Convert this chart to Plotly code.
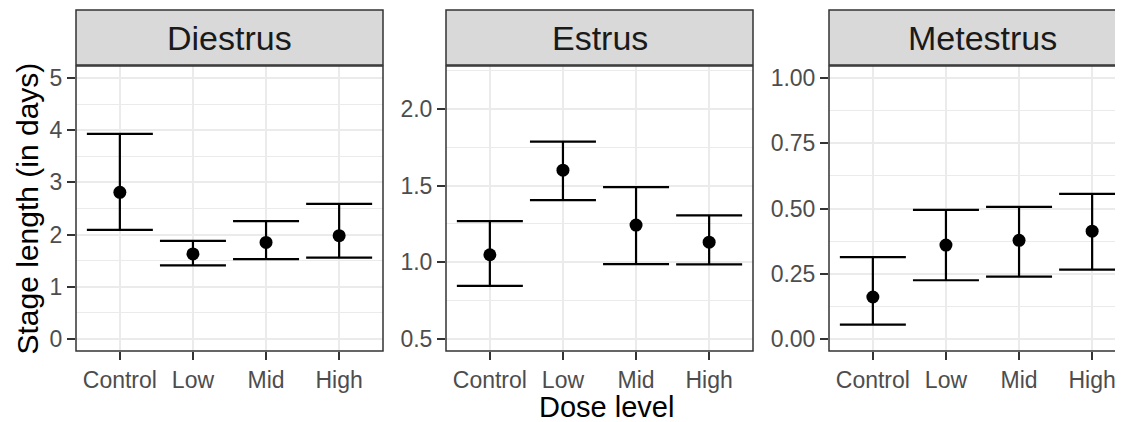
import plotly.graph_objects as go

# ---- data ----
doses = ["Control", "Low", "Mid", "High"]
stages = ["Diestrus", "Estrus", "Metestrus"]

diestrus_mean = [2.81, 1.63, 1.85, 1.98]
diestrus_low = [2.09, 1.41, 1.53, 1.56]
diestrus_high = [3.93, 1.88, 2.26, 2.59]

estrus_mean = [1.048, 1.60, 1.242, 1.13]
estrus_low = [0.845, 1.405, 0.987, 0.985]
estrus_high = [1.268, 1.786, 1.49, 1.305]

metestrus_mean = [0.161, 0.36, 0.378, 0.413]
metestrus_low = [0.055, 0.225, 0.239, 0.266]
metestrus_high = [0.314, 0.495, 0.506, 0.556]

y_ticks = [[0, 1, 2, 3, 4, 5], [0.5, 1.0, 1.5, 2.0], [0.0, 0.25, 0.5, 0.75, 1.0]]
y_tick_text = [["0", "1", "2", "3", "4", "5"], ["0.5", "1.0", "1.5", "2.0"],
               ["0.00", "0.25", "0.50", "0.75", "1.00"]]
y_minor = [[0.5, 1.5, 2.5, 3.5, 4.5], [0.75, 1.25, 1.75, 2.25], [0.125, 0.375, 0.625, 0.875]]
y_ranges = [[-0.23, 5.23], [0.42, 2.28], [-0.046, 1.046]]

# ---- layout geometry (page pixels; page has an 8px body margin) ----
OFF = 8
PAGE_W, PAGE_H = 1123, 422
W, H = PAGE_W - OFF, PAGE_H - OFF


def px(x):
    return (x - OFF) / W


def py(y):
    return 1 - (y - OFF) / H


panel_px = [(76, 383), (446, 753), (829, 1136)]
top_px, bot_px = 66, 351
strip_top, strip_bot = 10, 65
unit = (panel_px[0][1] - panel_px[0][0]) / 4.2

FONT = "Liberation Sans, Arial, sans-serif"
GRID = "#EBEBEB"
BORDER = "#333333"

fig = go.Figure()
series = [(diestrus_mean, diestrus_low, diestrus_high),
          (estrus_mean, estrus_low, estrus_high),
          (metestrus_mean, metestrus_low, metestrus_high)]

shapes = []
annotations = []
for i, (m, lo, hi) in enumerate(series):
    sfx = "" if i == 0 else str(i + 1)
    fig.add_trace(go.Scatter(
        x=doses, y=m, mode="markers",
        marker=dict(color="black", size=13),
        error_y=dict(type="data", symmetric=False,
                     array=[h - v for h, v in zip(hi, m)],
                     arrayminus=[v - l for v, l in zip(m, lo)],
                     color="black", thickness=2.2, width=33),
        xaxis="x" + sfx, yaxis="y" + sfx, showlegend=False, cliponaxis=False))

    x0, x1 = panel_px[i]
    vis_x1 = min(x1, PAGE_W)
    xr_max = -0.6 + (vis_x1 - x0) / unit
    axis_common = dict(ticks="outside", ticklen=8, tickwidth=2, tickcolor=BORDER,
                       tickfont=dict(family=FONT, size=23, color="#4D4D4D"),
                       showline=False, zeroline=False, gridcolor=GRID, gridwidth=2,
                       automargin=False)
    fig.update_layout(**{
        "xaxis" + sfx: dict(domain=[px(x0), px(vis_x1)], range=[-0.6, xr_max],
                            type="category", categoryorder="array", categoryarray=doses,
                            anchor="y" + sfx, fixedrange=True, **axis_common),
        "yaxis" + sfx: dict(domain=[py(bot_px), py(top_px)], range=y_ranges[i],
                            tickvals=y_ticks[i], ticktext=y_tick_text[i],
                            anchor="x" + sfx, fixedrange=True,
                            minor=dict(tickvals=y_minor[i], showgrid=True,
                                       gridcolor=GRID, gridwidth=1, ticks=""),
                            **axis_common),
    })
    # panel border
    shapes.append(dict(type="rect", xref="paper", yref="paper",
                       x0=px(x0), x1=px(x1), y0=py(bot_px), y1=py(top_px),
                       line=dict(color=BORDER, width=1.5), fillcolor="rgba(0,0,0,0)",
                       layer="above"))
    # strip
    shapes.append(dict(type="rect", xref="paper", yref="paper",
                       x0=px(x0), x1=px(x1), y0=py(strip_bot), y1=py(strip_top),
                       line=dict(color=BORDER, width=1.5), fillcolor="#D9D9D9",
                       layer="below"))
    annotations.append(dict(text=stages[i], xref="paper", yref="paper",
                            x=px((x0 + x1) / 2), y=py((strip_top + strip_bot) / 2 + 1),
                            xanchor="center", yanchor="middle", showarrow=False,
                            font=dict(family=FONT, size=34, color="#1A1A1A")))

annotations.append(dict(text="Dose level", xref="paper", yref="paper",
                        x=px(606), y=py(407), xanchor="center", yanchor="middle",
                        showarrow=False, font=dict(family=FONT, size=29, color="black")))
annotations.append(dict(text="Stage length (in days)", xref="paper", yref="paper",
                        x=px(27), y=py((top_px + bot_px) / 2), textangle=-90,
                        xanchor="center", yanchor="middle",
                        showarrow=False, font=dict(family=FONT, size=30, color="black")))

fig.update_layout(width=W, height=H, margin=dict(l=0, r=0, t=0, b=0),
                  paper_bgcolor="white", plot_bgcolor="white",
                  shapes=shapes, annotations=annotations)

fig.write_html("out.html")
